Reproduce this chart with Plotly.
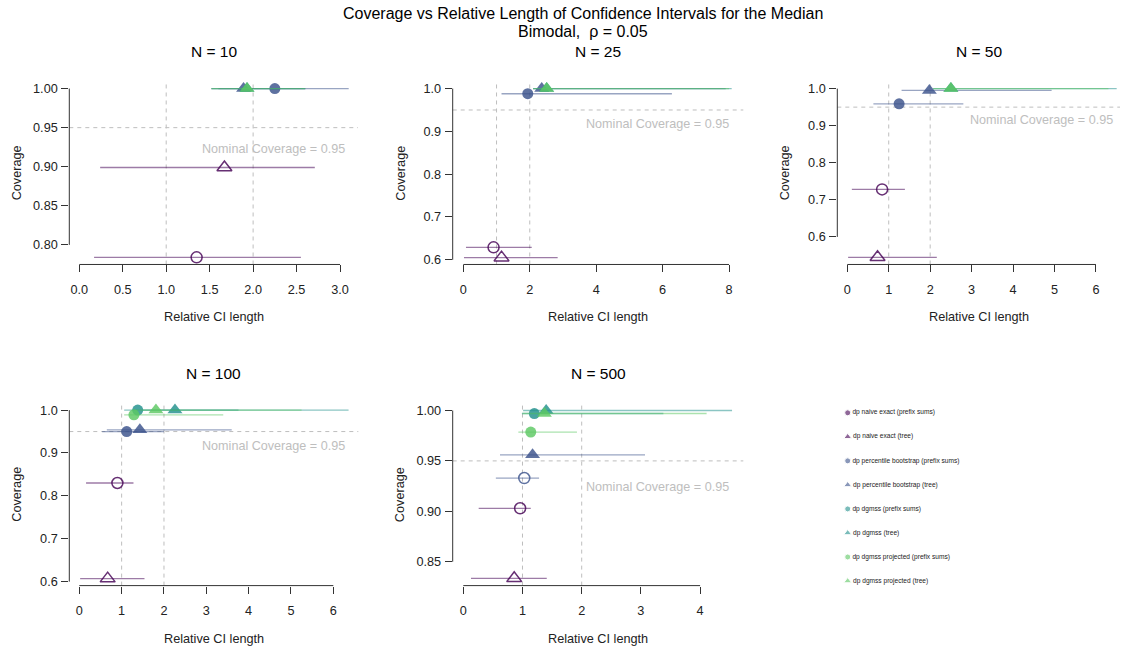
import plotly.graph_objects as go

# ---------------- data ----------------
series_names = [
    "dp naive exact (prefix sums)",
    "dp naive exact (tree)",
    "dp percentile bootstrap (prefix sums)",
    "dp percentile bootstrap (tree)",
    "dp dgmss (prefix sums)",
    "dp dgmss (tree)",
    "dp dgmss projected (prefix sums)",
    "dp dgmss projected (tree)",
]
series_shape = ["circle", "triangle-up"] * 4
series_rgb = [(68, 1, 84), (68, 1, 84), (59, 82, 139), (59, 82, 139),
              (33, 144, 140), (33, 144, 140), (93, 200, 99), (93, 200, 99)]

sample_sizes = [10, 25, 50, 100, 500]

len_n10 = [1.35, 1.67, 2.25, 1.89, None, 1.93, None, 1.93]
lo_n10 = [0.17, 0.24, 1.60, 1.52, None, 1.52, None, 1.52]
hi_n10 = [2.55, 2.71, 3.10, 2.60, None, 2.60, None, 2.60]
cov_n10 = [0.784, 0.899, 1.0, 1.0, None, 1.0, None, 1.0]
open_n10 = [True, True, False, False, False, False, False, False]

len_n25 = [0.91, 1.15, 1.94, 2.36, None, 2.51, None, 2.51]
lo_n25 = [0.08, 0.02, 1.15, 2.10, None, 2.10, None, 2.10]
hi_n25 = [2.06, 2.84, 6.28, 7.90, None, 8.08, None, 8.00]
cov_n25 = [0.629, 0.605, 0.988, 1.0, None, 1.0, None, 1.0]
open_n25 = [True, True, False, False, False, False, False, False]

len_n50 = [0.84, 0.73, 1.25, 1.98, None, 2.50, None, 2.50]
lo_n50 = [0.11, 0.02, 0.63, 1.31, None, 2.07, None, 2.07]
hi_n50 = [1.39, 2.16, 2.80, 4.93, None, 6.50, None, 6.30]
cov_n50 = [0.728, 0.545, 0.959, 0.995, None, 1.0, None, 1.0]
open_n50 = [True, True, False, False, False, False, False, False]

len_n100 = [0.90, 0.67, 1.12, 1.43, 1.38, 2.26, 1.29, 1.81]
lo_n100 = [0.16, 0.02, 0.54, 0.65, 1.06, 1.50, 1.06, 1.30]
hi_n100 = [1.28, 1.54, 2.00, 3.60, 3.76, 6.36, 3.40, 5.25]
cov_n100 = [0.830, 0.607, 0.950, 0.954, 1.0, 1.0, 0.989, 1.0]
open_n100 = [True, True, False, False, False, False, False, False]

len_n500 = [0.96, 0.86, 1.03, 1.17, 1.20, 1.40, 1.14, 1.37]
lo_n500 = [0.26, 0.13, 0.55, 0.62, 0.99, 1.01, 0.93, 1.00]
hi_n500 = [1.14, 1.41, 1.28, 3.07, 3.38, 4.54, 1.92, 4.11]
cov_n500 = [0.903, 0.8335, 0.933, 0.956, 0.997, 1.0, 0.9786, 0.997]
open_n500 = [True, True, True, False, False, False, False, False]

x_ticks = [[0, 0.5, 1, 1.5, 2, 2.5, 3], [0, 2, 4, 6, 8], [0, 1, 2, 3, 4, 5, 6],
           [0, 1, 2, 3, 4, 5, 6], [0, 1, 2, 3, 4]]
x_tick_text = [["0.0", "0.5", "1.0", "1.5", "2.0", "2.5", "3.0"],
               ["0", "2", "4", "6", "8"], ["0", "1", "2", "3", "4", "5", "6"],
               ["0", "1", "2", "3", "4", "5", "6"], ["0", "1", "2", "3", "4"]]
y_ticks = [[0.80, 0.85, 0.90, 0.95, 1.00], [0.6, 0.7, 0.8, 0.9, 1.0],
           [0.6, 0.7, 0.8, 0.9, 1.0], [0.6, 0.7, 0.8, 0.9, 1.0],
           [0.85, 0.90, 0.95, 1.00]]
y_tick_text = [["0.80", "0.85", "0.90", "0.95", "1.00"],
               ["0.6", "0.7", "0.8", "0.9", "1.0"], ["0.6", "0.7", "0.8", "0.9", "1.0"],
               ["0.6", "0.7", "0.8", "0.9", "1.0"], ["0.85", "0.90", "0.95", "1.00"]]
nominal = 0.95
ref_lengths = [1, 2]

# ---------------- layout params ----------------
W, H = 1123, 654
x_ranges = [[-0.115, 3.207], [-0.32, 8.43], [-0.241, 6.58], [-0.236, 6.59], [-0.179, 4.73]]
y_ranges = [[0.7749, 1.0089], [0.589, 1.0163], [0.5256, 1.0188], [0.5907, 1.0158], [0.8263, 1.0071]]
x_dom = [[69.3, 358], [452.7, 743.3], [837.3, 1120], [69.3, 358.3], [452.7, 743.3]]
y_dom = [[82, 265.7], [82, 265.7], [82, 265.7], [405.2, 588.3], [405.2, 588.3]]
title_y = [52, 52, 52, 375, 375]
nom_shift = [(-11, -21), (-12, -14.3), (-5, -13.3), (-11, -14.7), (-12, -26)]

FONT = "Liberation Sans, Arial, Helvetica, sans-serif"
GRAY = "#BEBEBE"
AXC = "#333333"

panels = [
    (len_n10, lo_n10, hi_n10, cov_n10, open_n10),
    (len_n25, lo_n25, hi_n25, cov_n25, open_n25),
    (len_n50, lo_n50, hi_n50, cov_n50, open_n50),
    (len_n100, lo_n100, hi_n100, cov_n100, open_n100),
    (len_n500, lo_n500, hi_n500, cov_n500, open_n500),
]


def rgba(rgb, a):
    return "rgba(%d,%d,%d,%.2f)" % (rgb[0], rgb[1], rgb[2], a)


fig = go.Figure()
shapes = []
annotations = []

for p, (lens, los, his, covs, opens) in enumerate(panels):
    k = p + 1
    xa = "x" if k == 1 else "x%d" % k
    ya = "y" if k == 1 else "y%d" % k
    for s in range(len(series_names)):
        if lens[s] is None:
            continue
        sym = series_shape[s] + ("-open" if opens[s] else "")
        size = 11 if series_shape[s] == "circle" else 13
        fig.add_trace(go.Scatter(
            x=[lens[s]], y=[covs[s]], xaxis=xa, yaxis=ya, mode="markers",
            showlegend=False, hoverinfo="skip", cliponaxis=False,
            marker=dict(symbol=sym, size=size, color=rgba(series_rgb[s], 0.82),
                        line=dict(width=1.5 if opens[s] else 0, color=rgba(series_rgb[s], 0.85))),
            error_x=dict(type="data", symmetric=False, array=[his[s] - lens[s]],
                         arrayminus=[lens[s] - los[s]], width=0, thickness=1.3,
                         color=rgba(series_rgb[s], 0.52)),
        ))
    # axes
    lay_x = dict(domain=[x_dom[p][0] / W, x_dom[p][1] / W], range=x_ranges[p],
                 anchor=ya, showgrid=False, zeroline=False, showline=False,
                 ticks="outside", ticklen=7, tickcolor=AXC, tickwidth=1,
                 tickvals=x_ticks[p], ticktext=x_tick_text[p], ticklabelstandoff=6,
                 tickfont=dict(family=FONT, size=12.7, color="#222"))
    lay_y = dict(domain=[(H - y_dom[p][1]) / H, (H - y_dom[p][0]) / H], range=y_ranges[p],
                 anchor=xa, showgrid=False, zeroline=False, showline=False,
                 ticks="outside", ticklen=7, tickcolor=AXC, tickwidth=1,
                 tickvals=y_ticks[p], ticktext=y_tick_text[p], ticklabelstandoff=1,
                 tickfont=dict(family=FONT, size=12.7, color="#222"))
    fig.layout["xaxis" if k == 1 else "xaxis%d" % k] = lay_x
    fig.layout["yaxis" if k == 1 else "yaxis%d" % k] = lay_y
    xd = xa + " domain"
    yd = ya + " domain"
    # R-style axis lines from first to last tick
    shapes.append(dict(type="line", xref=xa, yref=yd, x0=x_ticks[p][0], x1=x_ticks[p][-1],
                       y0=0, y1=0, line=dict(color=AXC, width=1)))
    shapes.append(dict(type="line", xref=xd, yref=ya, x0=0, x1=0, y0=y_ticks[p][0],
                       y1=y_ticks[p][-1], line=dict(color=AXC, width=1)))
    # reference lines
    for r in ref_lengths:
        shapes.append(dict(type="line", xref=xa, yref=yd, x0=r, x1=r, y0=0, y1=1,
                           layer="below", line=dict(color=GRAY, width=1, dash="4px,4px")))
    shapes.append(dict(type="line", xref=xd, yref=ya, x0=0, x1=1, y0=nominal, y1=nominal,
                       layer="below", line=dict(color=GRAY, width=1, dash="4px,4px")))
    annotations.append(dict(text="Nominal Coverage = 0.95", xref=xd, yref=ya, x=1, y=nominal,
                            xanchor="right", yanchor="middle", xshift=nom_shift[p][0],
                            yshift=nom_shift[p][1], showarrow=False,
                            font=dict(family=FONT, size=12.6, color=GRAY)))
    # panel title
    annotations.append(dict(text="N = %d" % sample_sizes[p], xref=xd, yref="paper", x=0.5,
                            y=(H - title_y[p]) / H, xanchor="center", yanchor="middle",
                            showarrow=False, font=dict(family=FONT, size=15.5, color="#000")))
    # axis titles
    annotations.append(dict(text="Relative CI length", xref=xd, yref=yd, x=0.5, y=0,
                            yshift=-53, xanchor="center", yanchor="middle", showarrow=False,
                            font=dict(family=FONT, size=12.7, color="#222")))
    annotations.append(dict(text="Coverage", xref=xd, yref=yd, x=0, y=0.5, xshift=-52,
                            textangle=-90, xanchor="center", yanchor="middle", showarrow=False,
                            font=dict(family=FONT, size=12.7, color="#222")))

# legend panel (categorical axis)
leg_top, leg_bot = 414.7, 583.7
step = (leg_bot - leg_top) / 7
fig.add_trace(go.Scatter(
    x=[0] * len(series_names), y=series_names, xaxis="x6", yaxis="y6",
    mode="markers+text", text=series_names, textposition="middle right",
    textfont=dict(family=FONT, size=6.6, color="#222"), showlegend=False, hoverinfo="skip",
    cliponaxis=False,
    marker=dict(symbol=series_shape, size=[6 if s == "circle" else 7 for s in series_shape],
                color=[rgba(c, 0.85) for c in series_rgb]),
))
fig.layout["xaxis6"] = dict(domain=[847.7 / W, 1.0], range=[0, 1], visible=False,
                            anchor="y6")
fig.layout["yaxis6"] = dict(domain=[(H - (leg_bot + step / 2)) / H, (H - (leg_top - step / 2)) / H],
                            type="category", categoryorder="array",
                            categoryarray=series_names[::-1], range=[-0.5, 7.5],
                            visible=False, anchor="x6")

# main titles
title_cx = 582.5 / W
annotations.append(dict(text="Coverage vs Relative Length of Confidence Intervals for the Median",
                        xref="paper", yref="paper", x=title_cx, y=(H - 14) / H, xanchor="center",
                        yanchor="middle", showarrow=False,
                        font=dict(family=FONT, size=16, color="#000")))
annotations.append(dict(text="Bimodal,  \u03c1 = 0.05", xref="paper", yref="paper", x=title_cx,
                        y=(H - 32) / H, xanchor="center", yanchor="middle", showarrow=False,
                        font=dict(family=FONT, size=16, color="#000")))

fig.update_layout(width=W, height=H, margin=dict(l=0, r=0, t=0, b=0),
                  paper_bgcolor="white", plot_bgcolor="white", shapes=shapes,
                  annotations=annotations, font=dict(family=FONT))
fig.write_html("out.html", config={"displayModeBar": False},
               post_script="document.body.style.margin='0';document.body.style.overflow='hidden';")
